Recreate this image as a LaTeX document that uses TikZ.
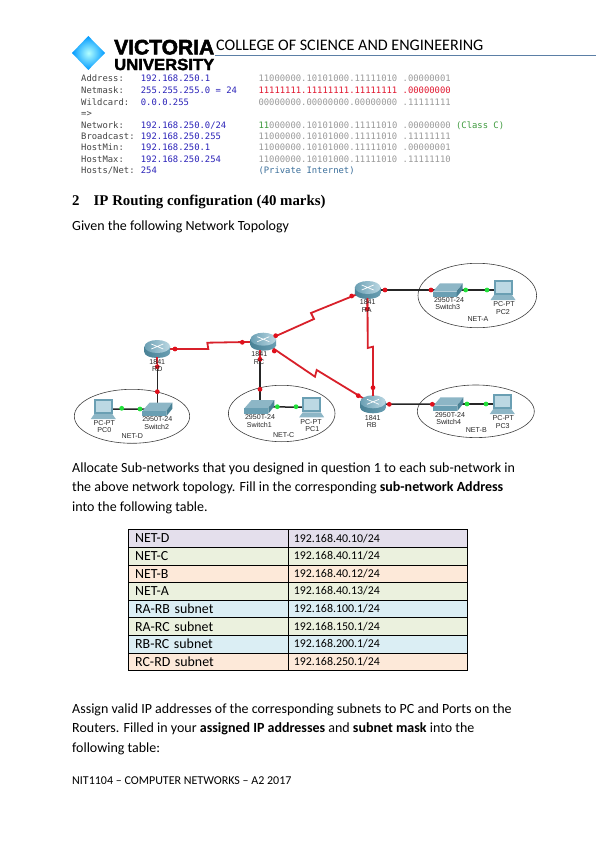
\documentclass[tikz,border=0pt]{standalone}
\usepackage{fontspec}
\usepackage{graphicx}
\setmainfont{Carlito}
\newfontfamily\logofont[FakeBold=2.5]{Liberation Sans}
\newfontfamily\headfont{Liberation Serif}
\newfontfamily\dumpfont{DejaVu Sans Mono}
\newfontfamily\devfont{Liberation Sans}
\newcommand{\fs}[1]{\fontsize{#1}{#1}\selectfont}
\definecolor{linkred}{HTML}{D8202A}
\definecolor{dotred}{HTML}{E0101C}
\definecolor{dotgreen}{HTML}{22E03A}
\definecolor{dlabel}{HTML}{444444}
\definecolor{dblue}{HTML}{2A22B8}
\definecolor{dgrey}{HTML}{9A9A9A}
\definecolor{dred}{HTML}{E01830}
\definecolor{dgreen}{HTML}{3E9A3E}
\definecolor{dcyan}{HTML}{3A6E9A}
\definecolor{cellpurple}{HTML}{E4DFEC}
\definecolor{cellgreen}{HTML}{EBF1DE}
\definecolor{cellorange}{HTML}{FDE9D9}
\definecolor{cellblue}{HTML}{DBEEF4}
\definecolor{rulecol}{HTML}{5B7FA6}
\definecolor{devdark}{HTML}{4A8296}
\definecolor{devmid}{HTML}{6A9FB3}
\definecolor{devlight}{HTML}{8DB6C6}
\definecolor{devpale}{HTML}{BCD8E3}
\tikzset{
  x=1pt,y=-1pt,
  body/.style={anchor=base west,inner sep=0pt,font=\fs{14}},
  dump/.style={anchor=base west,inner sep=0pt,font=\dumpfont\fs{8.87}},
  dev/.style={inner sep=0pt,font=\devfont\fs{7.1},text=black!85},
  reddot/.style={circle,fill=dotred,inner sep=0pt,minimum size=4.8pt},
  greendot/.style={circle,fill=dotgreen,inner sep=0pt,minimum size=4.8pt},
  redlink/.style={draw=linkred,line width=1.8pt},
  blacklink/.style={draw=black!85,line width=1.5pt},
  netcloud/.style={draw=black!75,line width=.6pt,ellipse},
  cell/.style={draw=black,line width=.7pt,anchor=north west,inner sep=0pt,align=left},
  lcell/.style={cell,minimum width=159.4pt,minimum height=17.6pt,text width=146.4pt,font=\fs{13.9}},
  rcell/.style={cell,minimum width=179.6pt,minimum height=17.6pt,text width=168pt,font=\fs{11.9}},
  router/.pic={
    \shade[left color=devdark,right color=devmid] (-12.8,-2.5) rectangle (12.8,3.5);
    \shade[left color=devdark,right color=devmid] (0,3.5) ellipse [x radius=12.8,y radius=5.5];
    \shade[left color=devmid,right color=devpale] (0,-2.5) ellipse [x radius=12.8,y radius=6.5];
    \draw[white,line width=.7pt] (-6,-5)--(6,0) (-6,0)--(6,-5);
  },
  switchbox/.pic={
    \fill[devlight] (-15,1.7)--(9,1.7)--(15,-6.7)--(-7.7,-6.7)--cycle;
    \fill[devmid] (-15,1.7) rectangle (9,7);
    \fill[devdark] (9,1.7)--(15,-6.7)--(15,-.5)--(9,7)--cycle;
  },
  pcbox/.pic={
    \fill[devmid] (-9.5,-10) rectangle (9.5,5);
    \fill[devpale] (-7.5,-8.5) rectangle (7.5,3);
    \fill[devlight] (-9,5)--(9,5)--(12.5,10)--(-12.5,10)--cycle;
  }
}
\usetikzlibrary{shapes.geometric}
\begin{document}
\begin{tikzpicture}
\useasboundingbox (0,0) rectangle (596,842);
% header
\draw[draw=rulecol,line width=.8pt] (215,55.3) -- (596,55.3);
\shade[inner color=cyan!30!white,outer color=blue!20!cyan!75!blue] (88.3,36)--(105,53)--(88.3,70)--(72,53)--cycle;
\node[inner sep=0pt,anchor=west] (vic) at (114,47.2) {\resizebox{100pt}{14.6pt}{\logofont\bfseries VICTORIA}};
\node[inner sep=0pt,anchor=west] (uni) at (114,64.5) {\resizebox{100pt}{11.2pt}{\logofont\bfseries UNIVERSITY}};
\node[body,font=\fs{16.1}] (head) at (216,51) {COLLEGE OF SCIENCE AND ENGINEERING};
% calculator output
\foreach \nm/\yy/\a/\b/\c in {
 d1/82/Address:/192.168.250.1/11000000.10101000.11111010 .00000001,
 d3/105.5/Wildcard:/0.0.0.255/00000000.00000000.00000000 .11111111,
 d6/139.5/Broadcast:/192.168.250.255/11000000.10101000.11111010 .11111111,
 d7/150.8/HostMin:/192.168.250.1/11000000.10101000.11111010 .00000001,
 d8/162.2/HostMax:/192.168.250.254/11000000.10101000.11111010 .11111110}{
  \node[dump,text=dlabel] (\nm a) at (81,\yy) {\a};
  \node[dump,text=dblue] (\nm b) at (140.7,\yy) {\b};
  \node[dump,text=dgrey] (\nm c) at (258.3,\yy) {\c};
}
\node[dump,text=dlabel] (d2a) at (81,93.7) {Netmask:};
\node[dump,text=dblue] (d2b) at (140.7,93.7) {255.255.255.0 = 24};
\node[dump,text=dred] (d2c) at (258.3,93.7) {11111111.11111111.11111111 .00000000};
\node[dump,text=dlabel] (d4a) at (81,116.8) {=>};
\node[dump,text=dlabel] (d5a) at (81,128.2) {Network:};
\node[dump,text=dblue] (d5b) at (140.7,128.2) {192.168.250.0/24};
\node[dump,text=dgrey] (d5c) at (258.3,128.2) {\textcolor{dgreen}{11}000000.10101000.11111010 .00000000 \textcolor{dgreen}{(Class C)}};
\node[dump,text=dlabel] (d9a) at (81,173.5) {Hosts/Net:};
\node[dump,text=dblue] (d9b) at (140.7,173.5) {254};
\node[dump,text=dcyan] (d9c) at (258.3,173.5) {(Private Internet)};
% headings and text
\node[body,font=\headfont\bfseries\fs{14.85}] (h1) at (72,205.5) {2};
\node[body,font=\headfont\bfseries\fs{14.85}] (h2) at (93.5,205.5) {IP Routing configuration (40 marks)};
\node[body] (t1) at (72,230.5) {Given the following Network Topology};
\node[body] (t2) at (72,472.5) {Allocate Sub-networks that you designed in question 1 to each sub-network in};
\node[body] (t3) at (72,491.5) {the above network topology. Fill in the corresponding \textbf{sub-network Address}};
\node[body] (t4) at (72,511.5) {into the following table.};
\node[body] (t5) at (72,713) {Assign valid IP addresses of the corresponding subnets to PC and Ports on the};
\node[body] (t6) at (72,732.5) {Routers. Filled in your \textbf{assigned IP addresses} and \textbf{subnet mask} into the};
\node[body] (t7) at (72,752.5) {following table:};
\node[body,font=\fs{12}] (foot) at (72,784) {NIT1104 – COMPUTER NETWORKS – A2 2017};
% topology
\node[netcloud,minimum width=118.6pt,minimum height=64.4pt] (neta) at (477.3,295.5) {};
\node[netcloud,minimum width=117pt,minimum height=52.6pt] (netb) at (475.8,411.3) {};
\node[netcloud,minimum width=106.6pt,minimum height=56.4pt] (netc) at (281.7,413.5) {};
\node[netcloud,minimum width=115.4pt,minimum height=54pt] (netd) at (132,416.3) {};
\coordinate (RA) at (367.7,290);
\coordinate (RB) at (373,404.3);
\coordinate (RC) at (263.3,341.7);
\coordinate (RD) at (157.3,349);
\coordinate (SW1) at (259.3,406.7);
\coordinate (SW2) at (157.3,409.3);
\coordinate (SW3) at (447.7,290);
\coordinate (SW4) at (448.3,404);
\coordinate (PC0) at (103.3,409);
\coordinate (PC1) at (311.7,407.3);
\coordinate (PC2) at (503,290);
\coordinate (PC3) at (502.3,404);
\coordinate (RCs) at (260,341.7);
\coordinate (SW1t) at (260,406.7);
\coordinate (RAs) at (367.5,290);
\coordinate (RBs) at (373,404.3);
\draw[blacklink] (RA) -- (SW3);
\draw[blacklink] (SW3) -- (PC2);
\draw[blacklink] (RB) -- (SW4);
\draw[blacklink] (SW4) -- (PC3);
\draw[blacklink] (RCs) -- (SW1t);
\draw[blacklink] (SW1) -- (PC1);
\draw[blacklink] (RD) -- (SW2);
\draw[blacklink] (SW2) -- (PC0);
\draw[redlink] (RAs) -- (367.7,348) -- (373,346.7) -- (RBs);
\draw[redlink] (RA) -- (311,313) -- (314,319) -- (RC);
\draw[redlink] (RC) -- (315,376.7) -- (316.7,370) -- (RB);
\draw[redlink] (RD) -- (208.3,349) -- (207.3,342.7) -- (RC);
\pic at (RA) {router};
\pic at (RB) {router};
\pic at (RC) {router};
\pic at (RD) {router};
\pic at (SW1) {switchbox};
\pic at (SW2) {switchbox};
\pic at (SW3) {switchbox};
\pic at (SW4) {switchbox};
\pic at (PC0) {pcbox};
\pic at (PC1) {pcbox};
\pic at (PC2) {pcbox};
\pic at (PC3) {pcbox};
\foreach \nm/\p in {ra1/{385,290},ra2/{431,290},ra3/{367.3,309},ra4/{351.7,296},rb1/{389.3,404.3},rb2/{432.3,404.3},rb3/{373,387.7},rb4/{358.3,395.7},rc1/{275.7,335.7},rc2/{274.3,351},rc3/{242.3,342.3},rc4/{260,359.3},rc5/{260,389.3},rd1/{175,349},rd2/{157.3,366.7},rd3/{157.3,391.7}}{
  \node[reddot] (\nm) at (\p) {};
}
\draw[redlink] (RAs) ++(0,8) -- (ra3);
\draw[redlink] (RBs) ++(0,-8) -- (rb3);
\draw[redlink] (RD) ++(0,8) -- (rd2);
\draw[redlink] (RCs) ++(0,8) -- (rc4);
\foreach \nm/\p in {g1/{465.7,290},g2/{487,290},g3/{467,404},g4/{486,404},g5/{277.3,406.7},g6/{296,406.7},g7/{140,409},g8/{121.7,408.3}}{
  \node[greendot] (\nm) at (\p) {};
}
\foreach \nm/\p/\tx in {
 l1/{367.7,302}/1841,l2/{366.7,310}/RA,l3/{449,300.3}/2950T-24,l4/{447.7,307.3}/Switch3,l5/{504,304}/PC-PT,l6/{503,311.7}/PC2,l7/{478,319}/NET-A,
 l8/{372.7,417.7}/1841,l9/{371.7,425}/RB,l10/{450,414.7}/2950T-24,l11/{448.7,422}/Switch4,l12/{503.3,418.3}/PC-PT,l13/{502.7,425.7}/PC3,l14/{476.3,430.3}/NET-B,
 l15/{157.3,361.7}/1841,l16/{157.3,369.3}/RD,l17/{157.3,419.3}/2950T-24,l18/{156.7,426.7}/Switch2,l19/{104.3,422.7}/PC-PT,l20/{104.3,430.3}/PC0,l21/{132.3,436.3}/NET-D,
 l22/{259.3,354.3}/1841,l23/{259,362.3}/RC,l24/{260,417}/2950T-24,l25/{259.3,424.7}/Switch1,l26/{311,421.7}/PC-PT,l27/{312.3,429}/PC1,l28/{283.7,435}/NET-C}{
  \node[dev] (\nm) at (\p) {\tx};
}
% table
\foreach \nm/\yy/\col/\a/\b in {
 r1/529.3/cellpurple/NET-D/192.168.40.10\slash 24,
 r2/546.9/cellgreen/NET-C/192.168.40.11\slash 24,
 r3/564.5/cellorange/NET-B/192.168.40.12\slash 24,
 r4/582.1/cellgreen/NET-A/192.168.40.13\slash 24,
 r5/599.7/cellblue/RA-RB subnet/192.168.100.1\slash 24,
 r6/617.3/cellgreen/RA-RC subnet/192.168.150.1\slash 24,
 r7/634.9/cellblue/RB-RC subnet/192.168.200.1\slash 24,
 r8/652.5/cellorange/RC-RD subnet/192.168.250.1\slash 24}{
  \node[lcell,fill=\col] (\nm a) at (128.3,\yy) {\a};
  \node[rcell,fill=\col] (\nm b) at (287.7,\yy) {\raisebox{1pt}{\b}};
}
\end{tikzpicture}
\end{document}
